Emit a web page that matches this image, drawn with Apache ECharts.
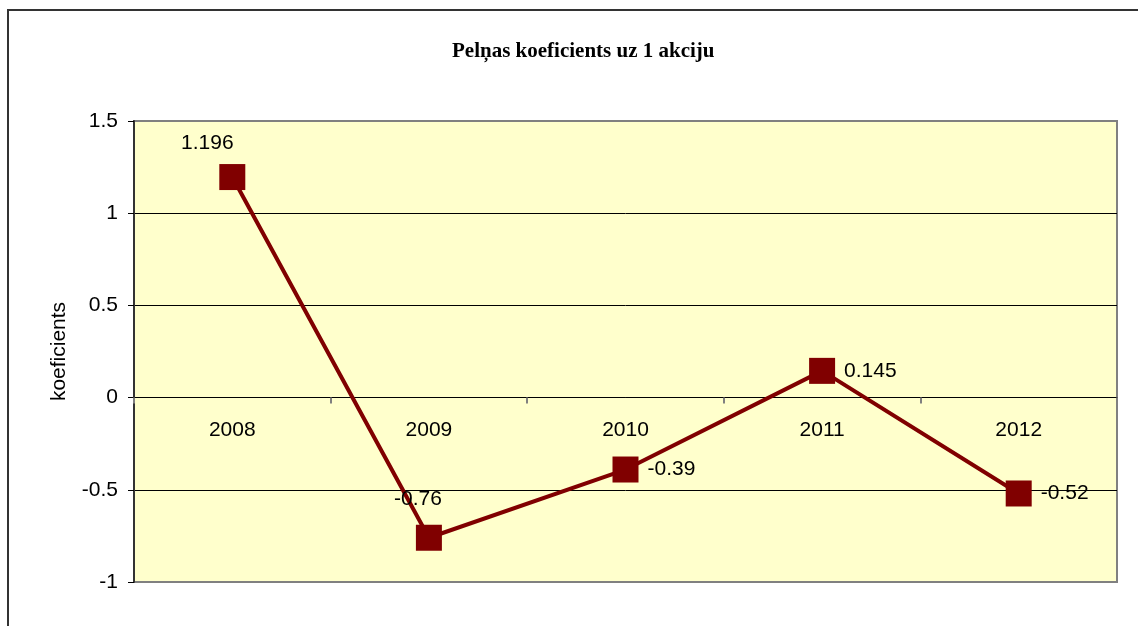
<!DOCTYPE html>
<html>
<head>
<meta charset="utf-8">
<script src="https://cdn.jsdelivr.net/npm/echarts@6/dist/echarts.min.js"></script>
<style>
  html, body { margin: 0; padding: 0; background: #fff; }
  #frame { position: absolute; left: 7px; top: 9px; width: 1200px; height: 700px; border: 2px solid #333; box-sizing: border-box; }
  #chart { position: absolute; left: 0; top: 0; width: 1138px; height: 626px; }
</style>
</head>
<body>
<div id="frame"></div>
<div id="chart"></div>
<script>
var years = ['2008', '2009', '2010', '2011', '2012'];
var values = [1.196, -0.76, -0.39, 0.145, -0.52];
var yTicks = { min: -1, max: 1.5, step: 0.5 };

// label placement per point: above-left for first two, right for the rest
var labelPos = [
	{ position: 'top', distance: 10, offset: [-25, 0] },
	{ position: 'top', distance: 15, offset: [-11, 0] },
	{ position: 'right', distance: 9 },
	{ position: 'right', distance: 9 },
	{ position: 'right', distance: 9 }
];

var seriesData = [];
for (var i = 0; i < values.length; i++) {
	seriesData.push({ value: values[i], label: labelPos[i] });
}

var font = 'Arial, "Liberation Sans", sans-serif';

var chart = echarts.init(document.getElementById('chart'), null, { renderer: 'canvas' });
chart.setOption({
	backgroundColor: 'transparent',
	animation: false,
	title: {
		text: 'Pelņas koeficients uz 1 akciju',
		left: 447,
		top: 36,
		textStyle: { fontFamily: '"Liberation Serif", "Times New Roman", serif', fontWeight: 'bold', fontSize: 21, color: '#000' }
	},
	grid: {
		left: 134, top: 121, right: 21, bottom: 44,
		show: true,
		backgroundColor: '#FFFFCC',
		borderColor: '#808080',
		borderWidth: 2
	},
	xAxis: {
		type: 'category',
		data: years,
		boundaryGap: true,
		axisLine: { onZero: true, lineStyle: { color: '#000', width: 1 } },
		axisTick: { show: true, length: 6, lineStyle: { color: '#808080', width: 2 } },
		// labels sit just under the zero line, as in the original
		axisLabel: { margin: -162, fontFamily: font, fontSize: 21, color: '#000' },
		splitLine: { show: false }
	},
	yAxis: {
		type: 'value',
		min: yTicks.min,
		max: yTicks.max,
		interval: yTicks.step,
		name: 'koeficients',
		nameLocation: 'middle',
		nameRotate: 90,
		nameGap: 64,
		nameTextStyle: { fontFamily: font, fontSize: 21, color: '#000' },
		axisLine: { show: true, lineStyle: { color: '#333', width: 2 } },
		axisTick: { show: true, length: 6, lineStyle: { color: '#000' } },
		axisLabel: { margin: 16, fontFamily: font, fontSize: 21, color: '#000' },
		splitLine: { show: true, showMinLine: false, showMaxLine: false, lineStyle: { color: '#000', width: 1 } }
	},
	series: [{
		type: 'line',
		data: seriesData,
		symbol: 'rect',
		symbolSize: 26,
		itemStyle: { color: '#800000' },
		lineStyle: { color: '#800000', width: 4 },
		label: {
			show: true,
			fontFamily: font,
			fontSize: 21,
			color: '#000'
		}
	}]
});
</script>
</body>
</html>
